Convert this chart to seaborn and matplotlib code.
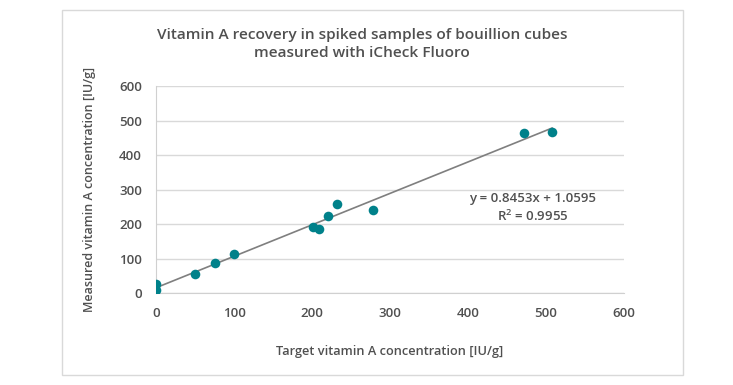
import numpy as np
import pandas as pd
import matplotlib.pyplot as plt
import seaborn as sns
from matplotlib.patches import Rectangle

# values
target = [0, 0, 50, 75, 100, 201, 209, 221, 232, 278, 472, 508]
measured = [25, 9, 56, 86, 113, 190, 185, 224, 259, 241, 465, 468]
x_ticks = [0, 100, 200, 300, 400, 500, 600]
y_ticks = [0, 100, 200, 300, 400, 500, 600]
eq_text = "y = 0.8453x + 1.0595\nR$^2$ = 0.9955"

df = pd.DataFrame({"Target": target, "Measured": measured})

sns.set_style("white")
plt.rcParams["font.family"] = ["Open Sans", "DejaVu Sans"]
plt.rcParams["mathtext.default"] = "regular"
grey = "#505050"
teal = "#00818a"

fig = plt.figure(figsize=(7.33, 3.85), dpi=100)
ax = fig.add_axes([156 / 733, 1 - 293 / 385, (624 - 156) / 733, (293 - 86) / 385])

sns.regplot(data=df, x="Target", y="Measured", ax=ax, ci=None,
            scatter_kws={"s": 48, "color": teal, "alpha": 1, "zorder": 3, "linewidths": 0},
            line_kws={"color": "#7f7f7f", "lw": 1.2, "zorder": 2})

ax.set_xlim(0, 600)
ax.set_ylim(0, 600)
ax.set_xticks(x_ticks)
ax.set_yticks(y_ticks)
ax.yaxis.grid(True, color="#d9d9d9", lw=1)
ax.set_axisbelow(True)
for s in ["top", "right"]:
    ax.spines[s].set_visible(False)
ax.spines["bottom"].set_color("#d0d0d0")
ax.spines["left"].set_color("#d0d0d0")
ax.tick_params(length=0, colors=grey, labelsize=9.5, pad=10)
for lab in ax.get_xticklabels() + ax.get_yticklabels():
    lab.set_fontweight("semibold")
ax.set_xlabel("Target vitamin A concentration [IU/g]", color=grey, fontsize=9.2,
              fontweight="semibold", labelpad=18)
ax.set_ylabel("Measured vitamin A concentration [IU/g]", color=grey, fontsize=9.0,
              fontweight="semibold", labelpad=17)
ax.set_clip_on(False)

ax.text(483, 246, eq_text, ha="center", va="center", color=grey, fontsize=9.5,
        fontweight="semibold", linespacing=1.3)

fig.text(362 / 733, 1 - 44 / 385,
         "Vitamin A recovery in spiked samples of bouillion cubes\nmeasured with iCheck Fluoro",
         ha="center", va="center", color=grey, fontsize=11.1, fontweight="semibold",
         linespacing=1.4)

fig.patches.append(Rectangle((62 / 733, 1 - 375 / 385), (683 - 62) / 733, (375 - 10) / 385,
                             transform=fig.transFigure, fill=False, edgecolor="#d9d9d9", lw=1))

fig.savefig("out.png", dpi=100, facecolor="white")
